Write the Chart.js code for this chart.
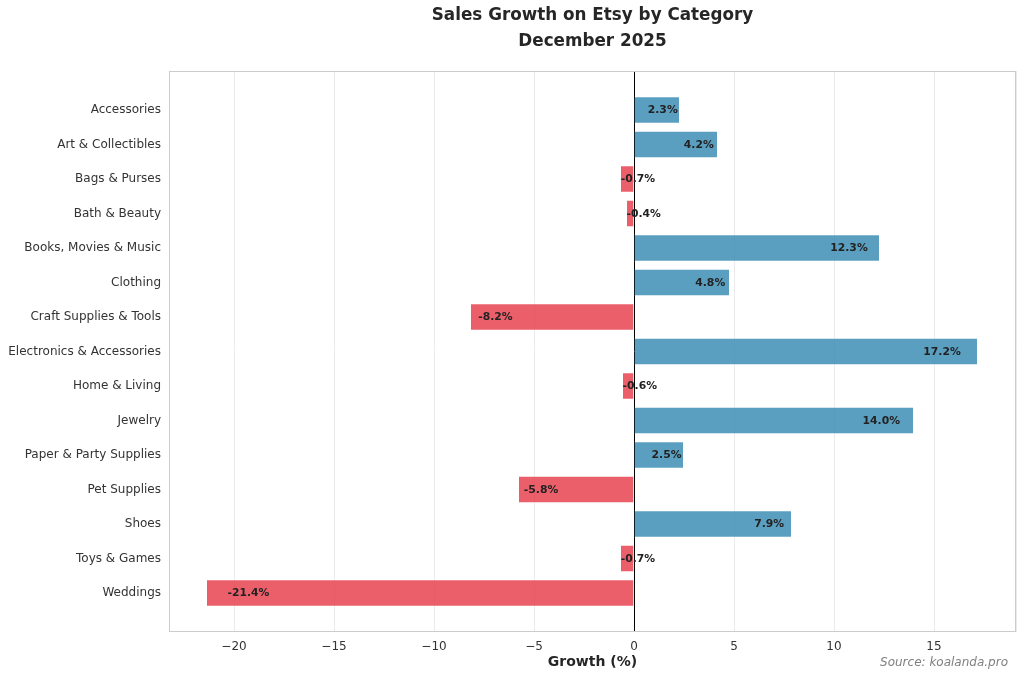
<!DOCTYPE html>
<html>
<head>
<meta charset="utf-8">
<script src="https://cdn.jsdelivr.net/npm/chart.js@4.4.1/dist/chart.umd.min.js"></script>
<style>
  html, body { margin: 0; padding: 0; background: #fff; }
  #wrap { width: 1024px; height: 679px; }
</style>
</head>
<body>
<div id="wrap"><canvas id="chart"></canvas></div>
<script>
const categories = ['Accessories', 'Art & Collectibles', 'Bags & Purses', 'Bath & Beauty',
    'Books, Movies & Music', 'Clothing', 'Craft Supplies & Tools', 'Electronics & Accessories',
    'Home & Living', 'Jewelry', 'Paper & Party Supplies', 'Pet Supplies', 'Shoes',
    'Toys & Games', 'Weddings'];
const growth = [2.3, 4.2, -0.7, -0.4, 12.3, 4.8, -8.2, 17.2, -0.6, 14.0, 2.5, -5.8, 7.9, -0.7, -21.4];
const titleLines = ['Sales Growth on Etsy by Category', 'December 2025'];
const sourceText = 'Source: koalanda.pro';

const FONT = "'DejaVu Sans', sans-serif";
const blue = 'rgba(61,141,181,0.85)';
const red = 'rgba(230,67,80,0.85)';

//turns the values into {x, y} points so the y axis can be a linear index scale
const points = growth.map((v, i) => ({ x: v, y: i }));
const barColors = growth.map(v => v >= 0 ? blue : red);

//draws the frame round the plot area, the titles and the source note
const framePlugin = {
    id: 'frame',
    afterDraw(chart) {
        const { ctx, chartArea } = chart;
        ctx.save();
        ctx.strokeStyle = '#cccccc';
        ctx.lineWidth = 1;
        ctx.strokeRect(chartArea.left + 0.5, chartArea.top + 0.5,
            chartArea.right - chartArea.left - 1, chartArea.bottom - chartArea.top - 1);
        const cx = (chartArea.left + chartArea.right) / 2;
        ctx.fillStyle = '#262626';
        ctx.font = 'bold 16.8px ' + FONT;
        ctx.textAlign = 'center';
        ctx.textBaseline = 'middle';
        ctx.fillText(titleLines[0], cx, 16);
        ctx.fillText(titleLines[1], cx, 42);
        ctx.font = 'italic 12px ' + FONT;
        ctx.fillStyle = '#808080';
        ctx.textAlign = 'right';
        ctx.fillText(sourceText, 1008, 663);
        ctx.restore();
    }
};

//writes the value of every bar just inside its end
const labelPlugin = {
    id: 'barLabels',
    afterDatasetsDraw(chart) {
        const { ctx } = chart;
        const xScale = chart.scales.x;
        const meta = chart.getDatasetMeta(0);
        ctx.save();
        ctx.font = 'bold 10.8px ' + FONT;
        ctx.fillStyle = '#222222';
        ctx.textBaseline = 'middle';
        meta.data.forEach((bar, i) => {
            const v = growth[i];
            ctx.textAlign = v >= 0 ? 'right' : 'left';
            ctx.fillText(v.toFixed(1) + '%', xScale.getPixelForValue(v * 0.95), bar.y + 0.5);
        });
        ctx.restore();
    }
};

new Chart(document.getElementById('chart'), {
    type: 'bar',
    data: {
        datasets: [{
            data: points,
            backgroundColor: barColors,
            borderColor: 'rgba(255,255,255,0.5)',
            borderWidth: 1,
            barPercentage: 0.8,
            categoryPercentage: 1
        }]
    },
    options: {
        indexAxis: 'y',
        responsive: true,
        maintainAspectRatio: false,
        animation: false,
        layout: { padding: { top: 71, right: 8, left: 0, bottom: 0 } },
        plugins: {
            legend: { display: false },
            title: { display: false },
            tooltip: { enabled: false }
        },
        scales: {
            x: {
                type: 'linear',
                min: -23.25,
                max: 19.1,
                border: { display: false },
                grid: {
                    drawTicks: false,
                    color: ctx => ctx.tick && ctx.tick.value === 0 ? '#000000' : '#ebebeb',
                    lineWidth: 1
                },
                ticks: {
                    stepSize: 5,
                    padding: 8,
                    color: '#333333',
                    font: { family: FONT, size: 12 },
                    callback: v => v % 5 === 0 ? String(v).replace('-', '\u2212') : ''
                },
                title: {
                    display: true,
                    text: 'Growth (%)',
                    color: '#262626',
                    font: { family: FONT, size: 14, weight: 'bold' },
                    padding: { top: 2, bottom: 8 }
                },
                afterFit: scale => { scale.height = 47; }
            },
            y: {
                type: 'linear',
                reverse: true,
                offset: false,
                min: -1.13,
                max: 15.13,
                border: { display: false },
                grid: { display: false, drawTicks: false, offset: false },
                ticks: {
                    stepSize: 1,
                    autoSkip: false,
                    padding: 8,
                    color: '#333333',
                    font: { family: FONT, size: 12 },
                    callback: v => Number.isInteger(v) && categories[v] ? categories[v] : ''
                },
                afterFit: scale => { scale.width = 169; }
            }
        }
    },
    plugins: [framePlugin, labelPlugin]
});
</script>
</body>
</html>
